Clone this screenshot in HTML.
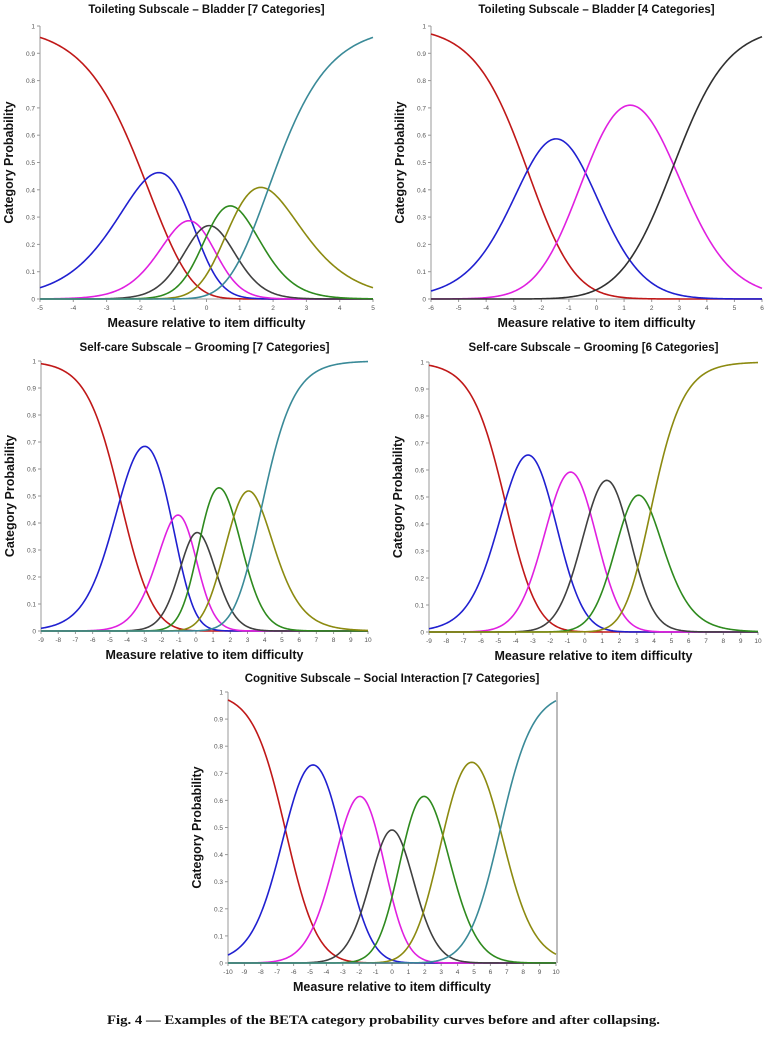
<!DOCTYPE html>
<html><head><meta charset="utf-8"><style>
body{margin:0;background:#fff;}
svg{display:block;}
.t{font-family:"Liberation Sans",sans-serif;font-weight:bold;font-size:11.5px;fill:#111;}
.ax{font-family:"Liberation Sans",sans-serif;font-weight:bold;font-size:12.5px;fill:#111;}
.tk{font-family:"Liberation Sans",sans-serif;font-size:6.5px;fill:#555;}
.cap{font-family:"Liberation Serif",serif;font-weight:bold;font-size:12.5px;fill:#111;}
</style></head><body>
<svg id="fig" width="774" height="1040" viewBox="0 0 774 1040" xmlns="http://www.w3.org/2000/svg">
<text class="cap" x="107" y="1024" textLength="553" lengthAdjust="spacingAndGlyphs">Fig. 4 — Examples of the BETA category probability curves before and after collapsing.</text>
</svg>
<script>
const p1Thresholds = [-1.85, -0.45, -0.15, 0.15, 0.95, 1.85];
const p2Thresholds = [-2.5, -0.4, 2.8];
const p3Thresholds = [-4.4, -1.4, -0.3, 0.3, 2.2, 3.8];
const p4Thresholds = [-4.6, -1.9, 0.3, 2.3, 3.8];
const p5Thresholds = [-6.5, -3.1, -0.7, 0.7, 3.1, 6.6];
const p1Ticks = [-5,-4,-3,-2,-1,0,1,2,3,4,5];
const p2Ticks = [-6,-5,-4,-3,-2,-1,0,1,2,3,4,5,6];
const p3Ticks = [-9,-8,-7,-6,-5,-4,-3,-2,-1,0,1,2,3,4,5,6,7,8,9,10];
const p4Ticks = [-9,-8,-7,-6,-5,-4,-3,-2,-1,0,1,2,3,4,5,6,7,8,9,10];
const p5Ticks = [-10,-9,-8,-7,-6,-5,-4,-3,-2,-1,0,1,2,3,4,5,6,7,8,9,10];
const yTicks = [0,0.1,0.2,0.3,0.4,0.5,0.6,0.7,0.8,0.9,1];
const yTickLabels = ["0","0.1","0.2","0.3","0.4","0.5","0.6","0.7","0.8","0.9","1"];
const colors7 = ["#c01818","#2020d0","#e020e0","#404040","#2e8a1e","#8c8a10","#3a8a98"];
const colors6 = ["#c01818","#2020d0","#e020e0","#404040","#2e8a1e","#8c8a10"];
const colors4 = ["#c01818","#2020d0","#e020e0","#303030"];

const NS="http://www.w3.org/2000/svg";
const svg=document.getElementById('fig');
function mk(tag,attrs,parent){const e=document.createElementNS(NS,tag);for(const k in attrs)e.setAttribute(k,attrs[k]);(parent||svg).appendChild(e);return e;}
function probs(th,x){let s=0;const w=[0];for(const t of th){s+=x-t;w.push(s);}const m=Math.max(...w);const e=w.map(v=>Math.exp(v-m));const tot=e.reduce((a,b)=>a+b,0);return e.map(v=>v/tot);}

function panel(cfg){
  const g=mk('g',{});
  
  
  const {L,R,T,B,ticks,th,cols}=cfg;
  const xmin=ticks[0],xmax=ticks[ticks.length-1];
  const sx=v=>L+(v-xmin)/(xmax-xmin)*(R-L);
  const sy=v=>B-v*(B-T);
  const t=mk('text',{class:'t',x:(L+R)/2,y:cfg.titleY,'text-anchor':'middle'},g);
  t.textContent=cfg.title;
  
  
  const ya=mk('line',{x1:L,y1:T,x2:L,y2:B,stroke:'#999','stroke-width':1},g);
  
  
  const xa=mk('line',{x1:L,y1:B,x2:R,y2:B,stroke:'#999','stroke-width':1},g);
  
  
  if(cfg.rightBar){const rb=mk('line',{x1:R+1,y1:T,x2:R+1,y2:B,stroke:'#bbb','stroke-width':2},g);}
  yTicks.forEach((v,i)=>{
    mk('line',{x1:L-3,y1:sy(v),x2:L,y2:sy(v),stroke:'#999'},g);
    const tx=mk('text',{class:'tk',x:L-5,y:sy(v)+2.5,'text-anchor':'end'},g);
    tx.textContent=yTickLabels[i];
    
    
  });
  ticks.forEach(v=>{
    mk('line',{x1:sx(v),y1:B,x2:sx(v),y2:B+3,stroke:'#999'},g);
    const tx=mk('text',{class:'tk',x:sx(v),y:B+11,'text-anchor':'middle'},g);
    tx.textContent=String(v);
    
    
  });
  const xt=mk('text',{class:'ax',x:(L+R)/2,y:B+28,'text-anchor':'middle'},g);
  xt.textContent='Measure relative to item difficulty';
  
  
  const yx=L-27,yy=(T+B)/2;
  const yt=mk('text',{class:'ax',x:yx,y:yy,'text-anchor':'middle',transform:`rotate(-90 ${yx} ${yy})`},g);
  yt.textContent='Category Probability';
  
  
  const n=th.length+1;
  for(let k=0;k<n;k++){
    let d='';
    const N=300;
    for(let i=0;i<=N;i++){const x=xmin+(xmax-xmin)*i/N;const p=probs(th,x)[k];d+=(i?'L':'M')+sx(x).toFixed(2)+' '+sy(p).toFixed(2);}
    const c=mk('path',{d:d,fill:'none',stroke:cols[k],'stroke-width':1.6},g);
    
    
  }
}
panel({name:'panel-bladder-7',title:'Toileting Subscale – Bladder [7 Categories]',L:40,R:373,T:26,B:299,titleY:13,ticks:p1Ticks,th:p1Thresholds,cols:colors7});
panel({name:'panel-bladder-4',title:'Toileting Subscale – Bladder [4 Categories]',L:431,R:762,T:26,B:299,titleY:13,ticks:p2Ticks,th:p2Thresholds,cols:colors4});
panel({name:'panel-grooming-7',title:'Self-care Subscale – Grooming [7 Categories]',L:41,R:368,T:361,B:631,titleY:351,ticks:p3Ticks,th:p3Thresholds,cols:colors7});
panel({name:'panel-grooming-6',title:'Self-care Subscale – Grooming [6 Categories]',L:429,R:758,T:362,B:632,titleY:351,ticks:p4Ticks,th:p4Thresholds,cols:colors6});
panel({name:'panel-social-7',title:'Cognitive Subscale – Social Interaction [7 Categories]',L:228,R:556,T:692,B:963,titleY:682,ticks:p5Ticks,th:p5Thresholds,cols:colors7,rightBar:true});
</script>
</body></html>
